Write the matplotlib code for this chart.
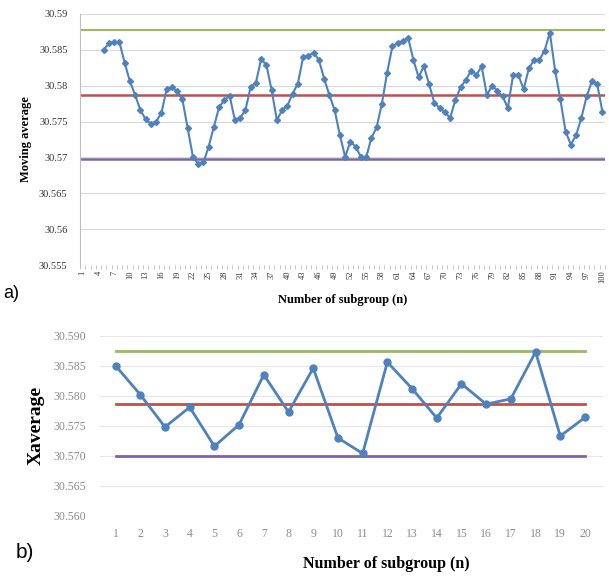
import numpy as np
import matplotlib
matplotlib.use('Agg')
import matplotlib.pyplot as plt
from matplotlib.ticker import FixedLocator, FormatStrFormatter

# (a) moving average, subgroups 5..100
ma_n = list(range(5, 101))
ma_vals = [30.5850, 30.5859, 30.5861, 30.5861, 30.5832, 30.5806, 30.5787, 30.5766, 30.5753, 30.5747,
           30.5750, 30.5762, 30.5795, 30.5798, 30.5792, 30.5781, 30.5741, 30.5701, 30.5691, 30.5693,
           30.5715, 30.5743, 30.5770, 30.5780, 30.5786, 30.5752, 30.5755, 30.5766, 30.5798, 30.5804,
           30.5837, 30.5829, 30.5794, 30.5752, 30.5766, 30.5772, 30.5789, 30.5803, 30.5840, 30.5842,
           30.5846, 30.5836, 30.5810, 30.5787, 30.5766, 30.5731, 30.5701, 30.5722, 30.5715, 30.5701,
           30.5700, 30.5727, 30.5742, 30.5775, 30.5818, 30.5855, 30.5859, 30.5862, 30.5867, 30.5836,
           30.5812, 30.5827, 30.5802, 30.5776, 30.5769, 30.5763, 30.5755, 30.5780, 30.5798, 30.5808,
           30.5821, 30.5815, 30.5827, 30.5787, 30.5800, 30.5793, 30.5785, 30.5769, 30.5815, 30.5815,
           30.5795, 30.5824, 30.5836, 30.5836, 30.5849, 30.5874, 30.5821, 30.5781, 30.5736, 30.5718,
           30.5731, 30.5755, 30.5785, 30.5806, 30.5803, 30.5764]
ucl_a, cl_a, lcl_a = 30.5878, 30.5787, 30.5698
a_yticks = [30.555, 30.56, 30.565, 30.57, 30.575, 30.58, 30.585, 30.59]
a_ylabels = ['30.555', '30.56', '30.565', '30.57', '30.575', '30.58', '30.585', '30.59']
a_xticks = list(range(1, 101, 3))

# (b) subgroup averages
sub_n = list(range(1, 21))
sub_vals = [30.5850, 30.5802, 30.5748, 30.5781, 30.5716, 30.5752, 30.5835, 30.5773, 30.5846, 30.5730,
            30.5704, 30.5856, 30.5812, 30.5763, 30.5820, 30.5786, 30.5795, 30.5873, 30.5733, 30.5764]
ucl_b, cl_b, lcl_b = 30.5875, 30.5786, 30.5700
b_yticks = [30.560, 30.565, 30.570, 30.575, 30.580, 30.585, 30.590]

blue = '#4f81bd'
green = '#9bbb59'
red = '#c0504d'
purple = '#8064a2'
grid_c = '#d9d9d9'
serif = 'Liberation Serif'

fig = plt.figure(figsize=(6.09, 5.78), dpi=100)

# ---- a) ----
ax1 = fig.add_axes([0.1314, 0.5415, 0.862, 0.4343])
ax1.set_xlim(0.5, 100.5)
ax1.set_ylim(30.555, 30.59)
for v in a_yticks:
    ax1.axhline(v, color=grid_c, lw=0.8, zorder=0)
ax1.axhline(ucl_a, color=green, lw=1.5, zorder=1)
ax1.axhline(cl_a, color=red, lw=1.8, zorder=1)
ax1.axhline(lcl_a, color=purple, lw=1.8, zorder=1)
ax1.plot(ma_n, ma_vals, color=blue, lw=1.5, marker='D', ms=3, zorder=3)
for s in ['top', 'right', 'bottom']:
    ax1.spines[s].set_visible(False)
ax1.spines['left'].set_color('#bfbfbf')
ax1.set_yticks(a_yticks)
ax1.set_yticklabels(a_ylabels, fontsize=7.5, family=serif, color='#333333')
ax1.tick_params(axis='y', length=0, pad=9)
ax1.xaxis.set_major_locator(FixedLocator(a_xticks))
ax1.set_xticklabels([str(t) for t in a_xticks], rotation=90, fontsize=6, family=serif, color='#333333')
ax1.xaxis.set_minor_locator(FixedLocator(np.arange(0.5, 101, 1)))
ax1.tick_params(axis='x', which='major', length=0, pad=4)
ax1.tick_params(axis='x', which='minor', length=3, color='#bfbfbf')
ax1.set_ylabel('Moving average', fontsize=9, family=serif, fontweight='bold', labelpad=5)
ax1.set_xlabel('Number of subgroup (n)', fontsize=9, family=serif, fontweight='bold', labelpad=8)
fig.text(0.005, 0.485, 'a)', fontsize=13, family='Liberation Sans')

# ---- b) ----
ax2 = fig.add_axes([0.1642, 0.1073, 0.826, 0.3119])
ax2.set_xlim(0.37, 20.73)
ax2.set_ylim(30.560, 30.590)
for v in b_yticks:
    ax2.axhline(v, color='#e6e6e6', lw=0.8, zorder=0)
ax2.plot([sub_n[0], sub_n[-1]], [ucl_b, ucl_b], color=green, lw=2, zorder=1)
ax2.plot([sub_n[0], sub_n[-1]], [cl_b, cl_b], color=red, lw=2, zorder=1)
ax2.plot([sub_n[0], sub_n[-1]], [lcl_b, lcl_b], color=purple, lw=2, zorder=1)
ax2.plot(sub_n, sub_vals, color=blue, lw=2, marker='o', ms=5, zorder=3)
for s in ax2.spines.values():
    s.set_visible(False)
ax2.set_yticks(b_yticks)
ax2.yaxis.set_major_formatter(FormatStrFormatter('%.3f'))
ax2.set_xticks(sub_n)
ax2.tick_params(length=0, labelsize=8.5, labelcolor='#8c8c8c')
ax2.tick_params(axis='y', pad=10)
ax2.tick_params(axis='x', pad=9)
for lab in ax2.get_xticklabels() + ax2.get_yticklabels():
    lab.set_family(serif)
ax2.set_ylabel('Xaverage', fontsize=14, family=serif, fontweight='bold', labelpad=6)
fig.text(0.635, 0.018, 'Number of subgroup (n)', fontsize=11.5, family=serif, fontweight='bold', ha='center')
fig.text(0.025, 0.035, 'b)', fontsize=15, family='Liberation Sans')

fig.savefig('out.png', dpi=100)
